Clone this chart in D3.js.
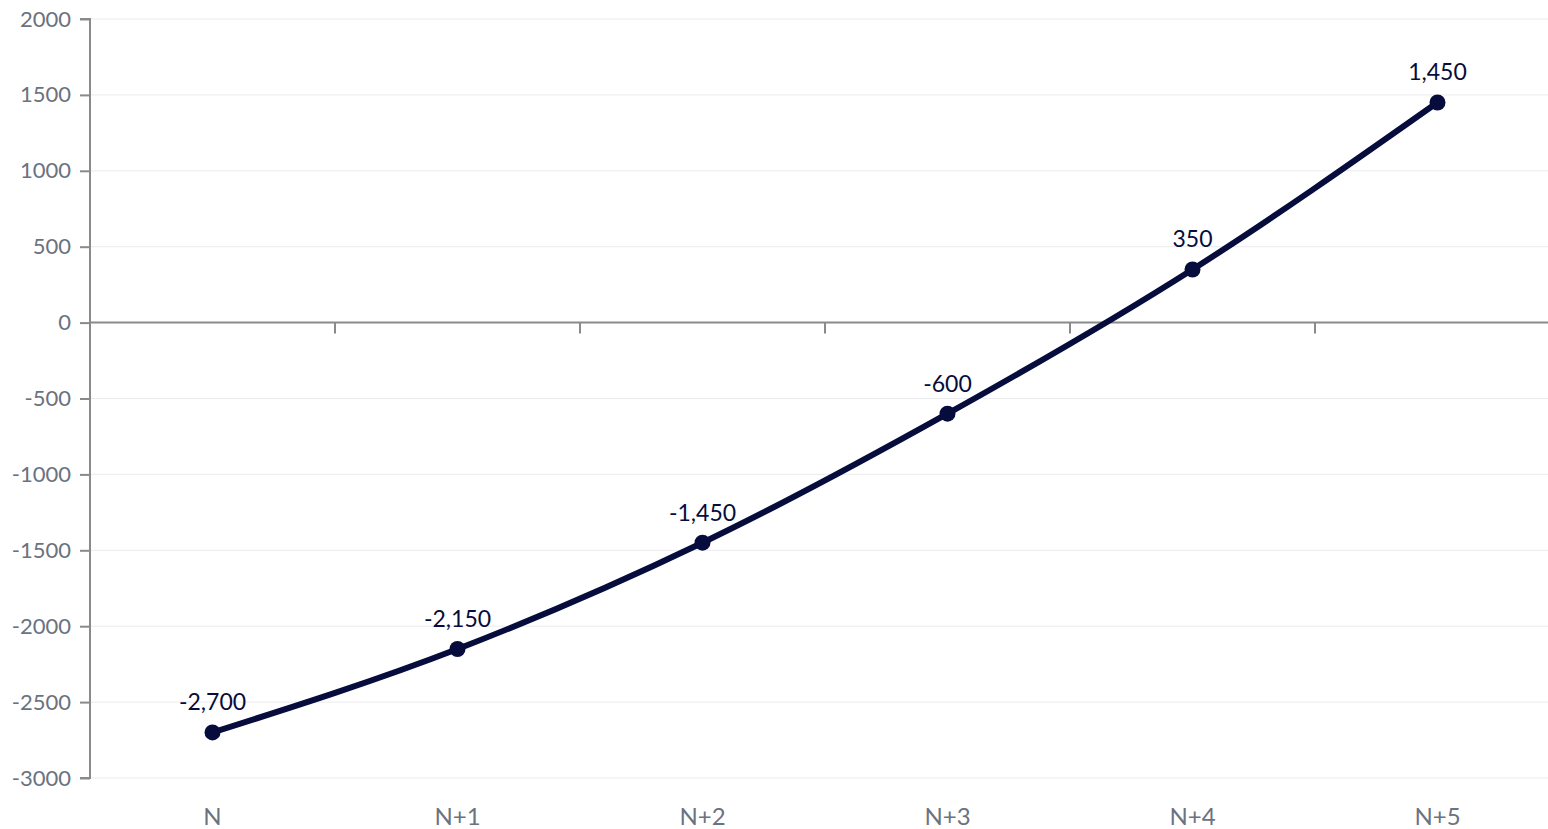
<!DOCTYPE html>
<html>
<head>
<meta charset="utf-8">
<script src="https://cdn.jsdelivr.net/npm/d3@7"></script>
<style>
    body { margin: 0; background: #fff; }
    svg { display: block; font-family: Lato, 'Open Sans', sans-serif; }
</style>
</head>
<body>
<div id="chart"></div>
<script>
// chart data
const categories = ['N', 'N+1', 'N+2', 'N+3', 'N+4', 'N+5'];
const values = [-2700, -2150, -1450, -600, 350, 1450];
const yTicks = [2000, 1500, 1000, 500, 0, -500, -1000, -1500, -2000, -2500, -3000];

const width = 1548, height = 829;
const margin = { top: 19, right: 0, bottom: 51, left: 90 };
const lineColor = '#060c3c';
const axisColor = '#8a8a8a';
const labelColor = '#6b7280';

// plain hyphen instead of d3's unicode minus
const fmtInt = d => d3.format('d')(d).replace('\u2212', '-');
const fmtComma = d => d3.format(',')(d).replace('\u2212', '-');

const svg = d3.select('#chart')
    .append('svg')
    .attr('width', width)
    .attr('height', height);

// band scale a bit wider than the page, like the original
const x = d3.scaleBand()
    .domain(categories)
    .range([margin.left, margin.left + 245 * categories.length])
    .padding(0);

const y = d3.scaleLinear()
    .domain([-3000, 2000])
    .range([height - margin.bottom, margin.top]);

// gridlines
svg.append('g')
    .selectAll('line')
    .data(yTicks)
    .join('line')
    .attr('x1', margin.left)
    .attr('x2', width)
    .attr('y1', d => y(d))
    .attr('y2', d => y(d))
    .attr('stroke', '#ebebf0')
    .attr('stroke-width', 1);

// y axis
const yAxis = svg.append('g')
    .attr('transform', `translate(${margin.left},0)`)
    .call(d3.axisLeft(y).tickValues(yTicks).tickSize(10).tickPadding(9).tickFormat(fmtInt));
yAxis.select('.domain').attr('stroke', axisColor).attr('stroke-width', 2).attr('d', `M-10,${y(2000)}H0V${y(-3000)}H-10`);
yAxis.selectAll('.tick line').attr('stroke', axisColor).attr('stroke-width', 2);
yAxis.selectAll('.tick text')
    .attr('fill', labelColor)
    .style('font-size', '22px')
    .style('font-family', 'Lato, sans-serif');

// zero axis with ticks at band boundaries
const zeroAxis = svg.append('g')
    .attr('transform', `translate(0,${y(0)})`);
zeroAxis.append('line')
    .attr('x1', margin.left)
    .attr('x2', width)
    .attr('stroke', axisColor)
    .attr('stroke-width', 2);
zeroAxis.selectAll('.btick')
    .data(categories.slice(1))
    .join('line')
    .attr('class', 'btick')
    .attr('x1', d => x(d))
    .attr('x2', d => x(d))
    .attr('y1', 0)
    .attr('y2', 11)
    .attr('stroke', axisColor)
    .attr('stroke-width', 2);

// category labels at bottom
svg.append('g')
    .selectAll('text')
    .data(categories)
    .join('text')
    .attr('x', d => x(d) + x.bandwidth() / 2)
    .attr('y', height - 4)
    .attr('text-anchor', 'middle')
    .attr('fill', labelColor)
    .style('font-size', '24px')
    .text(d => d);

// line
const points = categories.map((c, i) => ({ c, v: values[i] }));
const line = d3.line()
    .x(d => x(d.c) + x.bandwidth() / 2)
    .y(d => y(d.v))
    .curve(d3.curveMonotoneX);

svg.append('path')
    .datum(points)
    .attr('fill', 'none')
    .attr('stroke', lineColor)
    .attr('stroke-width', 6)
    .attr('stroke-linecap', 'round')
    .attr('d', line);

svg.append('g')
    .selectAll('circle')
    .data(points)
    .join('circle')
    .attr('cx', d => x(d.c) + x.bandwidth() / 2)
    .attr('cy', d => y(d.v))
    .attr('r', 8)
    .attr('fill', lineColor);

// value labels
svg.append('g')
    .selectAll('text')
    .data(points)
    .join('text')
    .attr('x', d => x(d.c) + x.bandwidth() / 2)
    .attr('y', d => y(d.v) - 22)
    .attr('text-anchor', 'middle')
    .attr('fill', lineColor)
    .style('font-size', '23px')
    .text(d => fmtComma(d.v));
</script>
</body>
</html>
